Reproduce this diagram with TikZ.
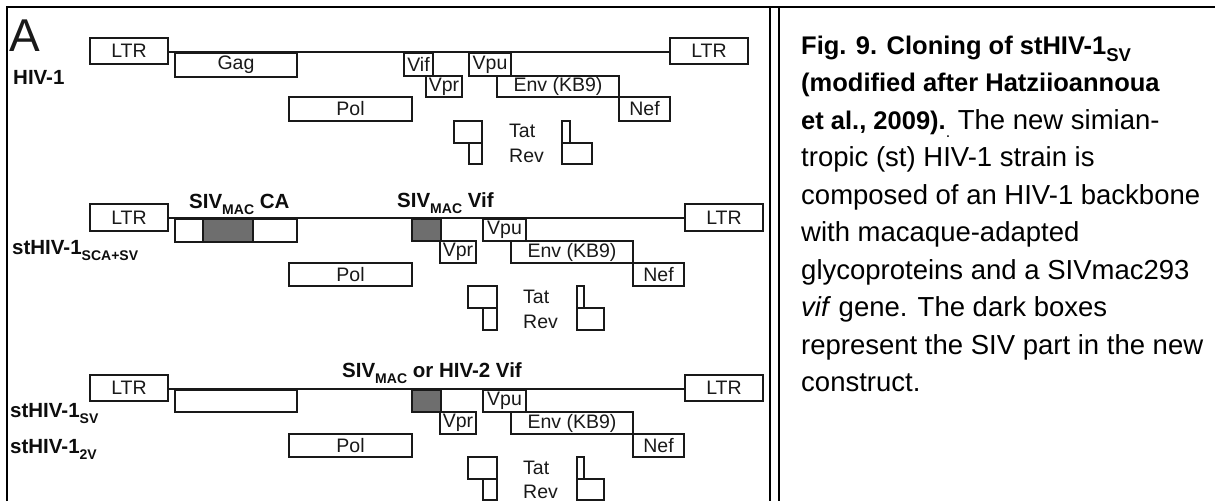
\documentclass[tikz,border=0pt]{standalone}
\usepackage{fontspec}
\setmainfont{Liberation Sans}
\newcommand{\lowsub}[2][14]{\raisebox{-0.3em}{\fontsize{#1}{#1}\selectfont #2}}
\newcommand{\bfcap}[1]{{\fontsize{25.5}{26}\selectfont\bfseries #1}}
\newcommand{\gbox}[7][]{\node[gene,#1,minimum width={(#5-#3)*1pt},minimum height={(#6-#4)*1pt}] (#2) at ({(#3+#5)/2},{(#4+#6)/2}) {#7};}
\tikzset{
 gene/.style={draw=black!90, line width=1.8pt, fill=white, inner sep=0pt, font=\fontsize{19.5}{20}\selectfont, text=black!90},
 siv/.style={fill=black!57},
 bb/.style={draw=black!90, line width=1.8pt},
 frame/.style={draw=black, line width=2.6pt},
 lbl/.style={anchor=base west, inner sep=0pt, font=\fontsize{20.5}{21}\selectfont\bfseries, text=black!95},
 tr/.style={anchor=base west, inner sep=0pt, font=\fontsize{19.5}{20}\selectfont, text=black!90},
 captxt/.style={anchor=base west, inner sep=0pt, font=\fontsize{27.5}{28}\selectfont},
}
\begin{document}
\begin{tikzpicture}[x=1pt,y=-1pt]
\useasboundingbox (0,0) rectangle (1215,501);
% frame
\coordinate (ftl) at (7,7);
\coordinate (ftr) at (1215,7);
\coordinate (fbl) at (7,501);
\coordinate (d1t) at (770,7);
\coordinate (d1b) at (770,501);
\coordinate (d2t) at (779,7);
\coordinate (d2b) at (779,501);
\draw[frame] (fbl) -- (ftl) -- (ftr);
\draw[draw=black, line width=2pt] (d1t) -- (d1b);
\draw[draw=black, line width=2pt] (d2t) -- (d2b);

% ---------- row 1 : HIV-1
\node[anchor=base west, inner sep=0pt, font=\fontsize{46}{46}\selectfont, text=black!90] (A) at (9,51) {A};
\node[lbl] (hiv1) at (13,84) {HIV-1};
\gbox{ltrL1}{90}{38}{168}{64}{LTR}
\gbox{gag1}{175}{53}{297}{77}{Gag}
\gbox{pol1}{289}{97}{412}{121}{Pol}
\gbox{vif1}{404}{53}{433}{76}{Vif}
\gbox{vpr1}{426}{76}{462}{97}{Vpr}
\gbox{vpu1}{469}{53}{511}{76}{Vpu}
\gbox{env1}{497}{76}{619}{97}{Env (KB9)}
\gbox{nef1}{619}{97}{670}{121}{Nef}
\gbox{ltrR1}{670}{38}{748}{64}{LTR}
\draw[bb] (ltrL1.east |- gag1.north) -- (ltrR1.west |- gag1.north);
\gbox{tatA1}{454}{121}{482}{143}{}
\gbox{tatB1}{469}{143}{482}{164}{}
\gbox{revA1}{562}{121}{570}{143}{}
\gbox{revB1}{562}{143}{592}{164}{}
\node[tr] (tat1) at (509,137) {Tat};
\node[tr] (rev1) at (509,162) {Rev};

% ---------- row 2 : stHIV-1 SCA+SV
\node[lbl] (sca) at (12,254) {stHIV-1\lowsub{SCA+SV}};
\node[lbl] (sivca) at (189,208) {SIV\lowsub{MAC} CA};
\node[lbl] (sivvif2) at (397,207) {SIV\lowsub{MAC} Vif};
\gbox{ltrL2}{90}{204}{168}{231}{LTR}
\gbox{gag2a}{175}{219}{203}{242}{}
\gbox[siv]{gag2b}{203}{219}{253}{242}{}
\gbox{gag2c}{253}{219}{297}{242}{}
\gbox{pol2}{289}{263}{412}{286}{Pol}
\gbox[siv]{vif2}{412}{219}{441}{241}{}
\gbox{vpr2}{440}{241}{476}{263}{Vpr}
\gbox{vpu2}{483}{219}{526}{241}{Vpu}
\gbox{env2}{511}{241}{633}{263}{Env (KB9)}
\gbox{nef2}{633}{263}{684}{286}{Nef}
\gbox{ltrR2}{685}{204}{763}{231}{LTR}
\draw[bb] (ltrL2.east |- gag2a.north) -- (ltrR2.west |- gag2a.north);
\gbox{tatA2}{468}{286}{497}{308}{}
\gbox{tatB2}{483}{308}{497}{330}{}
\gbox{revA2}{577}{286}{584}{308}{}
\gbox{revB2}{577}{308}{604}{330}{}
\node[tr] (tat2) at (523,303) {Tat};
\node[tr] (rev2) at (523,328) {Rev};

% ---------- row 3 : stHIV-1 SV / 2V
\node[lbl] (sv) at (10,417) {stHIV-1\lowsub{SV}};
\node[lbl] (tv) at (10,453) {stHIV-1\lowsub{2V}};
\node[lbl] (sivvif3) at (342,377) {SIV\lowsub{MAC} or HIV-2 Vif};
\gbox{ltrL3}{90}{375}{168}{401}{LTR}
\gbox{gag3}{175}{390}{297}{412}{}
\gbox{pol3}{289}{434}{412}{457}{Pol}
\gbox[siv]{vif3}{412}{390}{441}{412}{}
\gbox{vpr3}{440}{412}{476}{434}{Vpr}
\gbox{vpu3}{483}{390}{526}{412}{Vpu}
\gbox{env3}{511}{412}{633}{434}{Env (KB9)}
\gbox{nef3}{633}{434}{684}{457}{Nef}
\gbox{ltrR3}{685}{375}{763}{401}{LTR}
\draw[bb] (ltrL3.east |- gag3.north) -- (ltrR3.west |- gag3.north);
\gbox{tatA3}{468}{457}{497}{479}{}
\gbox{tatB3}{483}{479}{497}{500}{}
\gbox{revA3}{577}{457}{584}{479}{}
\gbox{revB3}{577}{479}{604}{500}{}
\node[tr] (tat3) at (523,474) {Tat};
\node[tr] (rev3) at (523,498) {Rev};

% ---------- caption
\node[captxt] (c1) at (801,54) {\bfcap{Fig. 9. Cloning of stHIV-1\lowsub[18.5]{SV}}};
\node[captxt] (c2) at (801,91.5) {\bfcap{(modified after Hatziioannoua}};
\node[captxt] (c3) at (801,129) {\bfcap{et al., 2009).}\lowsub[16]{.} The new simian-};
\node[captxt] (c4) at (801,166.5) {tropic (st) HIV-1 strain is};
\node[captxt] (c5) at (801,204) {composed of an HIV-1 backbone};
\node[captxt] (c6) at (801,241.5) {with macaque-adapted};
\node[captxt] (c7) at (801,279) {glycoproteins and a SIVmac293};
\node[captxt] (c8) at (801,316.5) {\textit{vif} gene. The dark boxes};
\node[captxt] (c9) at (801,354) {represent the SIV part in the new};
\node[captxt] (c10) at (801,391.5) {construct.};
\end{tikzpicture}
\end{document}
